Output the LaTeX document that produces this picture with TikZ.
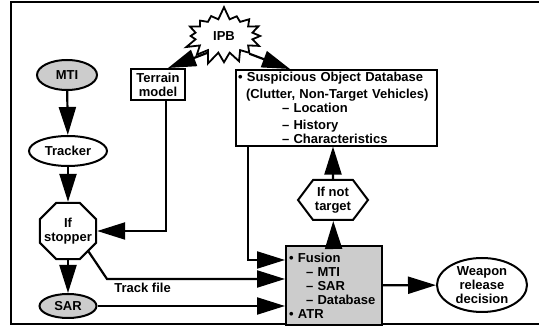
\documentclass[tikz,border=0pt]{standalone}
\usepackage{fontspec}
\setmainfont{Liberation Sans}
\usetikzlibrary{arrows.meta,shapes.geometric,shapes.symbols}
\definecolor{boxgray}{RGB}{204,204,204}

\begin{document}
\begin{tikzpicture}[x=1pt,y=-1pt,->,>={Triangle[length=28pt,width=17pt]},line width=2.2pt,
        font=\bfseries\fontsize{13}{14}\selectfont,
        oval node/.style={ellipse,draw,line width=2pt,inner sep=0pt,align=center},
        gray node/.style={oval node,fill=boxgray},
        box node/.style={rectangle,draw,line width=2pt,inner sep=2pt}]
            \useasboundingbox (0,0) rectangle (539,328);
            \draw[-,line width=2pt] (545,2) -- (11,2) -- (11,324) -- (545,324);

            \node[starburst,draw,line width=1.8pt,fill=white,minimum width=84pt,minimum height=60pt,starburst points=16,starburst point height=13pt,random starburst=7,inner sep=0pt] (ipb) at (224,36) {IPB};

            \node[gray node,minimum width=60pt,minimum height=30pt] (mti) at (67,75) {MTI};
            \node[oval node,minimum width=78pt,minimum height=30pt] (tracker) at (68,151) {Tracker};
            \node[regular polygon,regular polygon sides=8,draw,line width=2pt,minimum size=61pt,inner sep=0pt,label={[align=center]center:If\\stopper}] (stopper) at (68,231) {};
            \node[gray node,minimum width=57pt,minimum height=24pt] (sar) at (68,306) {SAR};

            \node[box node,align=center,minimum width=54pt,minimum height=31pt] (terrain) at (158,84.5) {Terrain\\model};
            \node[box node,anchor=north west,minimum width=201pt,minimum height=75pt,text width=197pt,align=left] (db) at (235,69)
                {\textbullet\ Suspicious Object Database\\[3pt]
                \hspace*{8pt}(Clutter, Non-Target Vehicles)\\
                \hspace*{44pt}– Location\\[3pt]
                \hspace*{44pt}– History\\
                \hspace*{44pt}– Characteristics};

            \node[signal,signal to=west and east,signal pointer angle=106,draw,line width=2pt,minimum width=70pt,minimum height=40pt,inner sep=1pt,align=center] (nottarget) at (333,200) {If not\\target};
            \node[box node,fill=boxgray,anchor=north west,minimum width=96pt,minimum height=79pt,text width=90pt,inner xsep=3pt,align=left] (fusion) at (285,245)
                {\textbullet\ Fusion\\
                \hspace*{17pt}– MTI\\
                \hspace*{17pt}– SAR\\
                \hspace*{17pt}– Database\\
                \textbullet\ ATR};
            \node[oval node,minimum width=90pt,minimum height=54pt] (weapon) at (482,285) {Weapon\\release\\decision};

            \path
                (mti) edge (tracker)
                (tracker) edge (stopper)
                (stopper) edge (sar)
                (ipb.225) edge ([xshift=10pt]terrain.north)
                (ipb.-35) edge ([xshift=55pt]db.north west)
                (fusion) edge (nottarget)
                (nottarget) edge (nottarget.north |- db.south)
                (fusion) edge (weapon)
                (sar) edge (sar -| fusion.west)
                ;

            \draw ([xshift=8pt]terrain.south) |- (stopper.east);
            \draw ([xshift=13pt]db.south west) |- ([yshift=-15pt]fusion.north west);
            \coordinate (bend) at (107,279);
            \draw (stopper.-45) -- (bend) -- node[pos=0.2,below] (trackfile) {Track file} (bend -| fusion.west);
        \end{tikzpicture}
\end{document}
